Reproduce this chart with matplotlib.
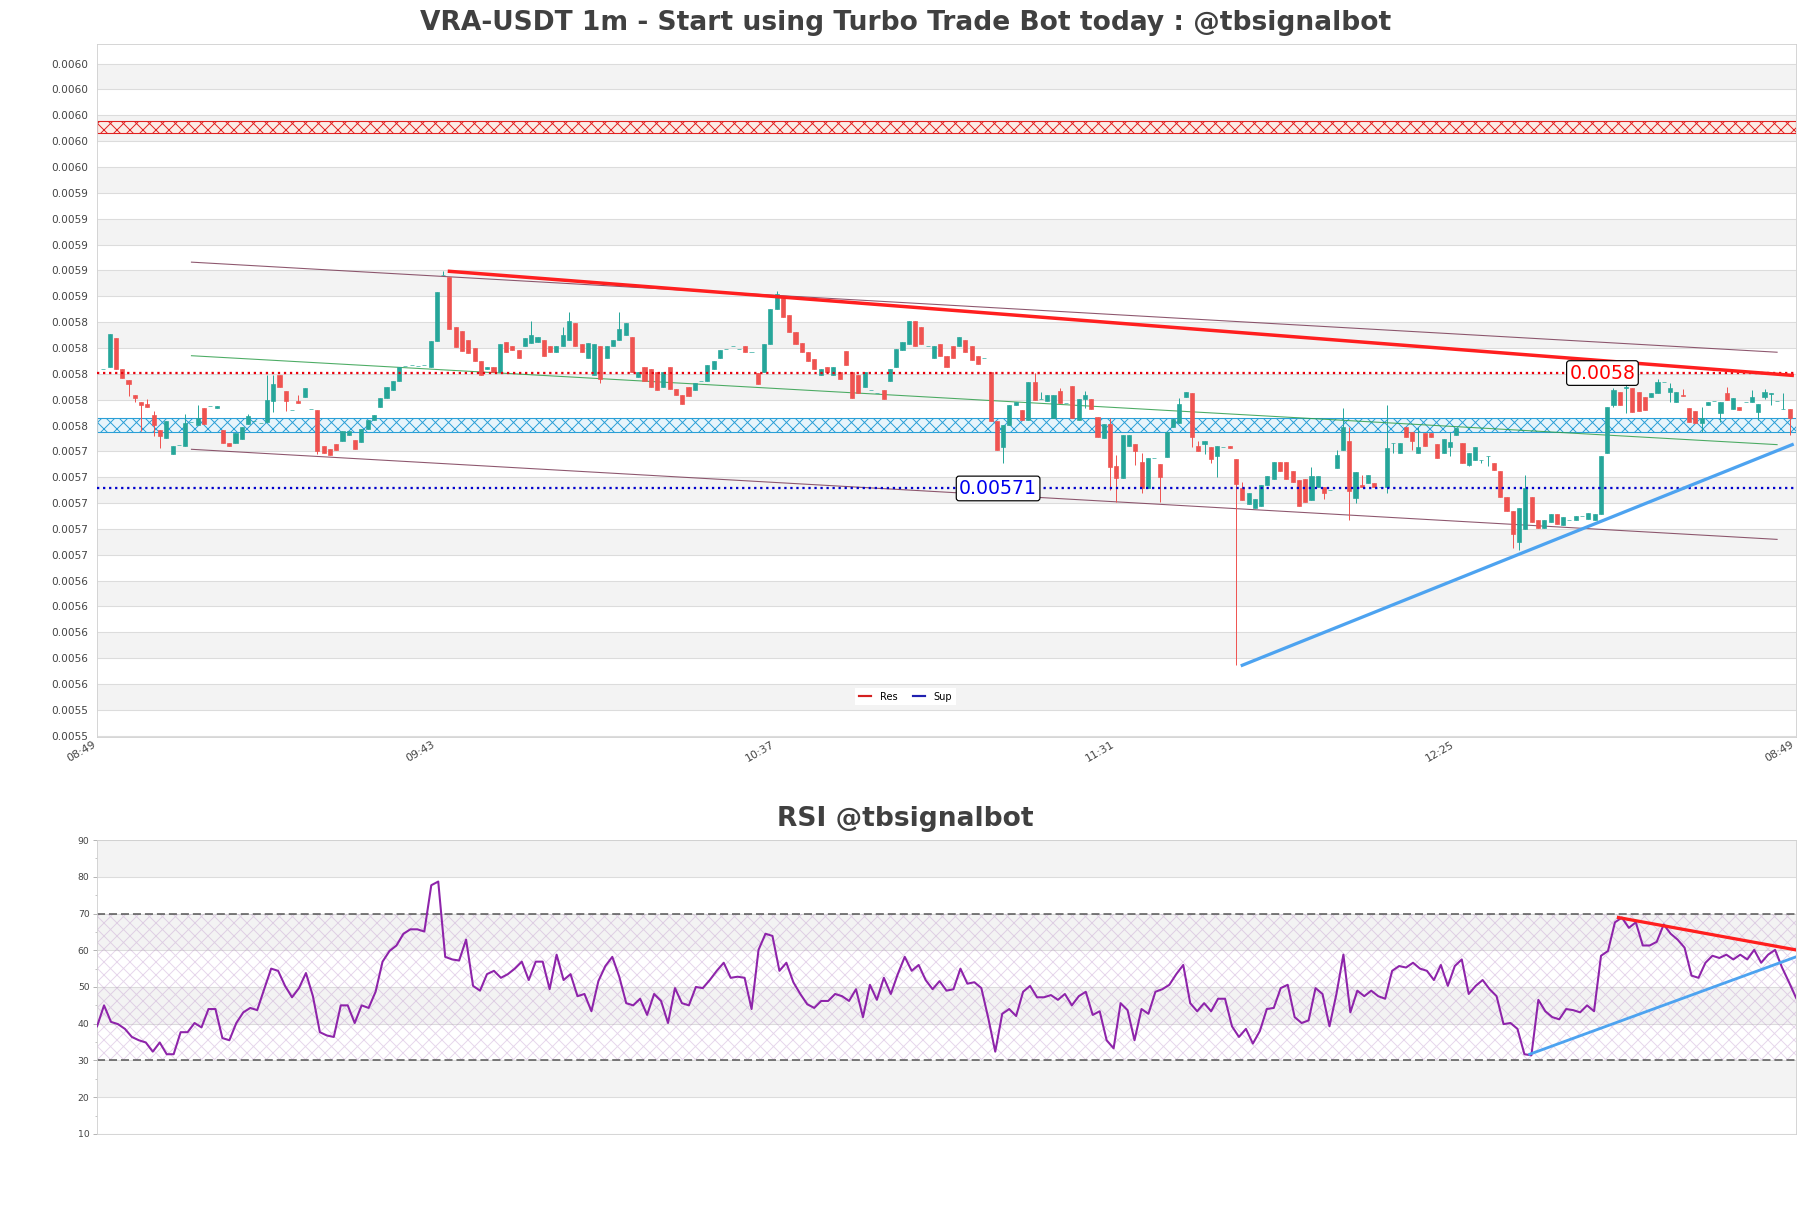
import numpy as np
import matplotlib
matplotlib.use("Agg")
import matplotlib.pyplot as plt
from matplotlib.ticker import FixedLocator, FormatStrFormatter, MultipleLocator
from matplotlib.lines import Line2D

DPI = 78
plt.rcParams["hatch.linewidth"] = 0.9

TITLE = "VRA-USDT 1m - Start using Turbo Trade Bot today : @tbsignalbot"
RSI_TITLE = "RSI @tbsignalbot"
time_labels = ["08:49", "09:43", "10:37", "11:31", "12:25", "08:49"]
time_ticks = [0, 54, 108, 162, 216, 270]

# candle open / close prices, units of 1e-7 (candles 1..269)
open_u = [58038, 58056, 58275, 58038, 57953, 57837, 57785, 57765, 57682, 57566,
          57507, 57380, 57450, 57445, 57631, 57605, 57734, 57752, 57734, 57566,
          57468, 57463, 57494, 57613, 57636, 57623, 57631, 57793, 57992, 57868,
          57718, 57791, 57824, 57729, 57721, 57445, 57420, 57456, 57484, 57530,
          57489, 57470, 57570, 57640, 57744, 57814, 57876, 57945, 58061, 58069,
          58061, 58069, 58053, 58254, 58765, 58749, 58363, 58330, 58260, 58200,
          58097, 58034, 58052, 58016, 58249, 58213, 58186, 58213, 58240, 58249,
          58258, 58213, 58168, 58213, 58258, 58392, 58231, 58124, 57990, 58213,
          58124, 58213, 58258, 58302, 58284, 57972, 58052, 58034, 58016, 57900,
          58052, 57882, 57838, 57900, 57873, 57945, 57945, 58034, 58124, 58195,
          58213, 58195, 58213, 58168, 58007, 58016, 58231, 58499, 58588, 58454,
          58320, 58240, 58168, 58115, 57990, 58052, 57990, 58016, 58177, 58016,
          57990, 57900, 57873, 57855, 57873, 57945, 58052, 58186, 58231, 58410,
          58365, 58213, 58124, 58231, 58141, 58213, 58213, 58258, 58213, 58141,
          58124, 58016, 57632, 57435, 57605, 57760, 57721, 57644, 57937, 57806,
          57791, 57659, 57868, 57775, 57906, 57644, 57806, 57806, 57667, 57504,
          57613, 57288, 57195, 57442, 57458, 57319, 57118, 57350, 57303, 57358,
          57589, 57620, 57821, 57852, 57442, 57458, 57435, 57365, 57435, 57442,
          57342, 57118, 56990, 56963, 56978, 57141, 57187, 57319, 57319, 57250,
          57180, 57190, 57025, 57126, 57126, 57102, 57272, 57412, 57481, 57040,
          57141, 57156, 57156, 57126, 57126, 57466, 57388, 57589, 57551, 57388,
          57543, 57543, 57458, 57388, 57435, 57528, 57466, 57296, 57334, 57335,
          57365, 57311, 57249, 57048, 56940, 56700, 56800, 57048, 56870, 56808,
          56855, 56917, 56832, 56870, 56870, 56900, 56880, 56870, 56917, 57388,
          57760, 57860, 57891, 57891, 57860, 57821, 57821, 57852, 57937, 57860,
          57783, 57837, 57736, 57713, 57620, 57760, 57791, 57698, 57852, 57729,
          57744, 57783, 57783, 57705, 57821, 57845, 57791, 57729, 57729]
close_u = [58038, 58309, 58035, 57971, 57922, 57816, 57760, 57747, 57605, 57515,
           57636, 57445, 57450, 57618, 57631, 57657, 57610, 57752, 57752, 57463,
           57445, 57541, 57592, 57670, 57636, 57623, 57798, 57922, 57896, 57793,
           57718, 57778, 57891, 57729, 57400, 57390, 57370, 57410, 57554, 57560,
           57420, 57570, 57640, 57680, 57814, 57899, 57945, 58053, 58061, 58069,
           58061, 58069, 58254, 58633, 58765, 58347, 58208, 58180, 58160, 58100,
           57990, 58052, 58016, 58231, 58168, 58186, 58124, 58276, 58302, 58284,
           58141, 58168, 58213, 58302, 58410, 58213, 58168, 58240, 58231, 57963,
           58213, 58258, 58347, 58392, 58016, 58016, 57945, 57900, 57873, 58016,
           57882, 57838, 57766, 57829, 57927, 57945, 58070, 58097, 58186, 58195,
           58213, 58195, 58168, 58168, 57918, 58231, 58499, 58615, 58437, 58320,
           58231, 58168, 58097, 58034, 58034, 58016, 58052, 57963, 58070, 57811,
           57855, 58016, 57873, 57855, 57802, 58034, 58195, 58249, 58410, 58213,
           58231, 58213, 58213, 58141, 58052, 58124, 58284, 58168, 58106, 58079,
           58124, 57632, 57408, 57605, 57760, 57783, 57644, 57937, 57798, 57806,
           57837, 57837, 57775, 57775, 57659, 57806, 57837, 57729, 57512, 57613,
           57280, 57195, 57528, 57528, 57404, 57118, 57350, 57350, 57203, 57551,
           57651, 57767, 57860, 57512, 57404, 57481, 57342, 57442, 57435, 57427,
           57149, 57025, 57079, 57033, 57141, 57210, 57319, 57250, 57187, 57164,
           56980, 57010, 57211, 57211, 57079, 57102, 57373, 57589, 57095, 57241,
           57126, 57218, 57126, 57126, 57427, 57466, 57466, 57512, 57481, 57435,
           57442, 57512, 57350, 57497, 57474, 57582, 57311, 57388, 57435, 57335,
           57365, 57257, 57048, 56940, 56760, 56960, 57118, 56855, 56808, 56870,
           56917, 56840, 56893, 56870, 56900, 56900, 56920, 56917, 57365, 57744,
           57876, 57760, 57899, 57705, 57713, 57721, 57852, 57937, 57937, 57891,
           57860, 57830, 57628, 57620, 57659, 57783, 57791, 57783, 57798, 57814,
           57721, 57783, 57821, 57767, 57860, 57852, 57791, 57729, 57659]
# visible wick extremes beyond the body (candle number -> price units)
wick_high_u = {8: 57806, 9: 57713, 14: 57690, 16: 57755, 24: 57690, 27: 57992, 28: 57992,
               32: 57837, 55: 58796, 69: 58410, 74: 58365, 75: 58481, 83: 58481, 108: 58642,
               149: 58007, 150: 57860, 153: 57891, 157: 57867, 161: 57659, 162: 57373,
               166: 57388, 172: 57814, 175: 57481, 182: 57164, 193: 57280, 197: 57412,
               198: 57736, 199: 57589, 201: 57218, 205: 57760, 210: 57585, 215: 57553,
               227: 57218, 241: 57891, 243: 57930, 248: 57960, 250: 57930, 252: 57883,
               255: 57744, 259: 57899, 263: 57875, 265: 57883, 268: 57852}
wick_low_u = {5: 57832, 6: 57785, 7: 57554, 9: 57515, 10: 57425, 28: 57708, 30: 57713,
              35: 57380, 80: 57927, 144: 57311, 157: 57736, 161: 57102, 162: 57009,
              165: 57296, 166: 57079, 169: 57009, 174: 57435, 176: 57381, 177: 57311,
              178: 57203, 181: 55749, 195: 57033, 199: 56870, 200: 57000, 205: 57079,
              206: 57388, 209: 57412, 215: 57365, 218: 57283, 220: 57309, 221: 57283,
              225: 56650, 226: 56640, 241: 57745, 243: 57698, 250: 57783, 255: 57551,
              258: 57628, 264: 57643, 265: 57806, 266: 57760, 269: 57527}

rsi_values = [39.3, 45.0, 40.5, 39.9, 38.6, 36.4, 35.5, 34.9, 32.4, 34.9, 31.7, 31.7, 37.7, 37.7,
              40.2, 39.0, 44.0, 44.0, 36.1, 35.5, 40.2, 43.1, 44.3, 43.7, 49.4, 55.0, 54.4, 50.3,
              47.2, 49.7, 53.8, 47.5, 37.7, 36.8, 36.4, 45.0, 45.0, 40.2, 45.0, 44.3, 48.7, 56.9,
              59.8, 61.3, 64.5, 65.7, 65.7, 65.1, 77.7, 78.7, 58.2, 57.5, 57.2, 62.9, 50.3, 49.0,
              53.5, 54.4, 52.5, 53.5, 55.0, 56.9, 51.9, 56.9, 56.9, 49.4, 58.8, 51.9, 53.5, 47.5,
              48.1, 43.4, 51.6, 55.7, 58.2, 52.8, 45.6, 45.0, 46.8, 42.4, 48.1, 46.2, 40.2, 49.7,
              45.6, 45.0, 50.0, 49.7, 51.9, 54.4, 56.6, 52.5, 52.8, 52.5, 44.0, 60.1, 64.5, 63.9,
              54.4, 56.6, 51.3, 48.1, 45.3, 44.3, 46.2, 46.2, 48.1, 47.5, 46.2, 49.4, 41.8, 50.6,
              46.5, 52.5, 48.1, 53.5, 58.2, 54.4, 56.0, 51.9, 49.4, 51.6, 49.0, 49.4, 55.0, 50.9,
              51.3, 49.7, 41.5, 32.4, 42.7, 44.0, 42.1, 48.7, 50.3, 47.2, 47.2, 47.8, 46.5, 48.1,
              45.0, 47.5, 48.7, 42.4, 43.4, 35.5, 33.3, 45.6, 43.7, 35.5, 44.0, 42.7, 48.7, 49.4,
              50.6, 53.5, 56.0, 45.6, 43.4, 45.6, 43.4, 46.8, 46.8, 39.3, 36.4, 38.6, 34.6, 38.0,
              44.0, 44.3, 49.7, 50.6, 41.8, 40.2, 40.9, 49.7, 48.1, 39.3, 48.1, 58.8, 43.1, 49.0,
              47.5, 49.0, 47.5, 46.8, 54.4, 55.7, 55.3, 56.6, 55.0, 54.4, 51.9, 56.0, 50.3, 55.7,
              57.5, 48.1, 50.3, 51.9, 49.4, 47.5, 39.9, 40.2, 38.6, 31.7, 31.4, 46.5, 43.4, 41.8,
              41.2, 44.0, 43.7, 43.1, 45.0, 43.4, 58.5, 59.8, 67.6, 68.9, 66.1, 67.6, 61.3, 61.3,
              62.3, 67.0, 64.5, 62.9, 60.7, 53.1, 52.5, 56.6, 58.5, 57.9, 58.8, 57.5, 58.8, 57.5,
              60.1, 56.6, 58.8, 60.1, 55.3, 51.3, 47.1]

# horizontal levels / zones (prices)
res_level = 0.0058006
sup_level = 0.0057113
res_zone = (0.0059865, 0.0059954)
sup_zone = (0.0057550, 0.0057658)
# channel & trend lines: (index, price)
chan_upper = [(15, 0.0058864), (267, 0.0058167)]
chan_lower = [(15, 0.0057416), (267, 0.0056719)]
chan_mid = [(15, 0.0058140), (267, 0.0057452)]
res_trend = [(56, 0.0058793), (269.4, 0.0057988)]
sup_trend = [(182, 0.0055745), (269.4, 0.0057452)]
rsi_res_trend = [(240, 68.9), (268, 60.1)]
rsi_sup_trend = [(226, 31.7), (268, 58.2)]

GREEN = "#26a69a"
RED = "#ef5350"

o = np.array(open_u) / 1e7
c = np.array(close_u) / 1e7
n = len(c)
x = np.arange(1, n + 1)
h = np.maximum(o, c)
l = np.minimum(o, c)
for k, v in wick_high_u.items():
    h[k - 1] = max(h[k - 1], v / 1e7)
for k, v in wick_low_u.items():
    l[k - 1] = min(l[k - 1], v / 1e7)

fig = plt.figure(figsize=(1811 / DPI, 1208 / DPI), dpi=DPI)
ax = fig.add_axes([0.0536, 0.3899, 0.9381, 0.5737])
ax2 = fig.add_axes([0.0536, 0.0613, 0.9381, 0.2433])

ylo, yhi = 0.005519, 0.0060552
ticks = 0.00552 + 0.00002 * np.arange(27)
ax.set_ylim(ylo, yhi)
ax.set_xlim(0, 270)
for k in range(0, 26, 2):
    ax.axhspan(ticks[k + 1], ticks[k + 2], color="#f3f3f3", lw=0, zorder=0)
ax.yaxis.set_major_locator(FixedLocator(ticks))
ax.yaxis.set_major_formatter(FormatStrFormatter("%.4f"))
ax.grid(axis="y", color="#dcdcdc", lw=1, zorder=0.5)
ax.set_axisbelow(True)
ax.set_xticks(time_ticks)
ax.set_xticklabels(time_labels, rotation=30, ha="right", va="top")
ax.tick_params(axis="y", labelsize=9.7, labelcolor="#444444", color="white", length=4, pad=4)
ax.tick_params(axis="x", labelsize=10.2, labelcolor="#444444", length=0, pad=2)
for s in ax.spines.values():
    s.set_color("#d0d0d0")

# zones
ax.axhspan(*res_zone, facecolor="#fcece6", edgecolor="#e02020", hatch="xx", lw=1, zorder=1)
ax.axhspan(*sup_zone, facecolor="#e6f4fb", edgecolor="#2a9fd6", hatch="xx", lw=1, zorder=1)

# channel lines
for line, col in ((chan_upper, "#7a3a55"), (chan_lower, "#7a3a55"), (chan_mid, "#2e9e4a")):
    ax.plot([p[0] for p in line], [p[1] for p in line], color=col, lw=1, alpha=0.85, zorder=2)

# candles
up = c >= o
cols = np.where(up, GREEN, RED)
ax.vlines(x, l, h, colors=cols, lw=0.9, zorder=3)
ax.bar(x, np.abs(c - o), bottom=np.minimum(o, c), width=0.65, color=cols,
       edgecolor=cols, linewidth=0.6, zorder=3)

# levels
ax.axhline(res_level, color="#e8000b", ls=":", lw=2.1, zorder=4)
ax.axhline(sup_level, color="#0000cc", ls=":", lw=2.1, zorder=4)
ax.plot([p[0] for p in res_trend], [p[1] for p in res_trend], color="#ff1f1f", lw=3.2, zorder=5)
ax.plot([p[0] for p in sup_trend], [p[1] for p in sup_trend], color="#4da3f0", lw=3.0, zorder=5)

bbox = dict(boxstyle="round,pad=0.15", fc="white", ec="black", lw=1.1)
ax.text(234, res_level, "0.0058", color="#ff0000", fontsize=17.4, ha="left", va="center",
        bbox=bbox, zorder=6)
ax.text(137, sup_level, "0.00571", color="#0000ee", fontsize=17.4, ha="left", va="center",
        bbox=bbox, zorder=6)

handles = [Line2D([], [], color="#d42020", lw=2), Line2D([], [], color="#2020b0", lw=2)]
fig.legend(handles, ["Res", "Sup"], loc="center", bbox_to_anchor=(0.5, 0.4234), ncol=2,
           fontsize=9, handlelength=1.2, handletextpad=0.9, frameon=True, fancybox=False,
           edgecolor="none", facecolor="white", framealpha=1, columnspacing=1.6)

fig.text(0.5, 0.981, TITLE, ha="center", va="center", fontsize=24.5, fontweight="bold",
         color="#404040")
fig.text(0.5, 0.322, RSI_TITLE, ha="center", va="center", fontsize=24.5, fontweight="bold",
         color="#404040")

# RSI panel
ax2.set_ylim(10, 90)
m = len(rsi_values)
ax2.set_xlim(0, 268)
for lo_, hi_ in ((80, 90), (60, 70), (40, 50), (20, 30)):
    ax2.axhspan(lo_, hi_, color="#f3f3f3", lw=0, zorder=0)
ax2.axhspan(30, 70, facecolor="none", edgecolor=(0.72, 0.55, 0.78, 0.35), hatch="xx", lw=0, zorder=0.6)
ax2.yaxis.set_major_locator(MultipleLocator(10))
ax2.yaxis.set_minor_locator(MultipleLocator(5))
ax2.grid(axis="y", which="major", color="#dcdcdc", lw=1, zorder=0.5)
ax2.set_axisbelow(True)
ax2.set_xticks([])
ax2.tick_params(axis="y", which="both", labelsize=8.5, labelcolor="#444444", color="#aaaaaa")
for s in ax2.spines.values():
    s.set_color("#d0d0d0")
ax2.axhline(70, color="#555555", ls=(0, (5.3, 2.6)), lw=1.4, zorder=2)
ax2.axhline(30, color="#555555", ls=(0, (5.3, 2.6)), lw=1.4, zorder=2)
ax2.plot(np.linspace(0, 268, m), rsi_values, color="#8e24aa", lw=1.9, zorder=3)
ax2.plot([p[0] for p in rsi_res_trend], [p[1] for p in rsi_res_trend], color="#ff1f1f", lw=3.0, zorder=4)
ax2.plot([p[0] for p in rsi_sup_trend], [p[1] for p in rsi_sup_trend], color="#4da3f0", lw=2.6, zorder=4)

fig.savefig("out.png", dpi=DPI)
